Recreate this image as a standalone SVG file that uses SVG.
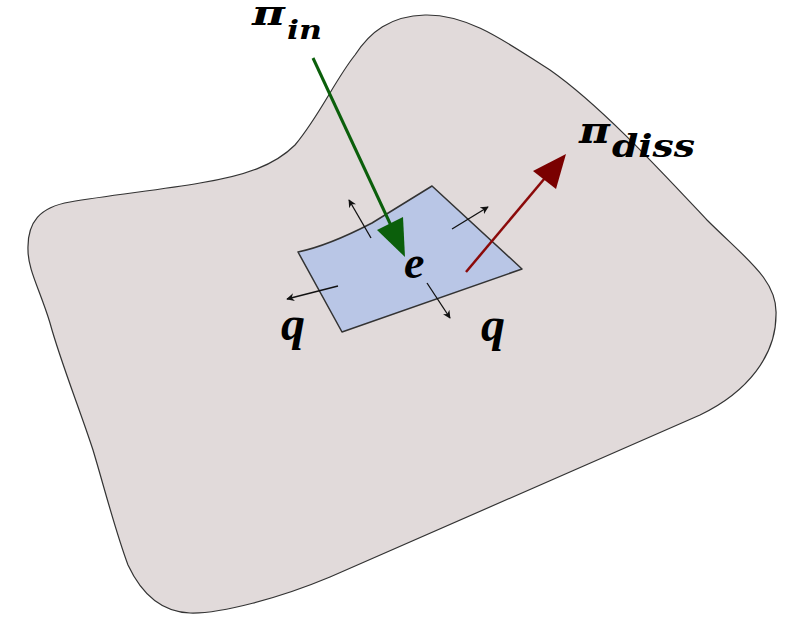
<svg xmlns="http://www.w3.org/2000/svg" width="790" height="617" viewBox="0 0 790 617">
<defs>
<style>
.lbl{font-family:"Liberation Serif","DejaVu Serif",serif;font-weight:bold;font-style:italic;fill:#000}
.dv{font-family:"DejaVu Serif","Liberation Serif",serif;font-weight:bold;font-style:italic;fill:#000}
.small{stroke:#111;stroke-width:1.3;fill:none}
</style>
<marker id="ah" viewBox="0 0 10 10" refX="9" refY="5" markerWidth="8" markerHeight="8" markerUnits="userSpaceOnUse" orient="auto"><path d="M0,0 L10,5 L0,10 L3,5 Z" fill="#111"/></marker>
</defs>
<rect width="790" height="617" fill="#fff"/>
<g id="body">
<path d="M28,250 C27,222 40,207 70,202 C110,195 160,190 200,183 C245,176 275,165 295,145 C320,115 335,80 355,55 C370,32 390,16 425,15 C470,14 510,45 550,70 C600,105 660,170 707,220 C745,258 778,280 776,315 C776,355 748,392 700,415 L330,577 C280,598 220,614 190,613 C163,612 142,595 128,565 C115,530 105,490 93,450 C80,410 60,360 50,323 C40,290 28,270 28,250 Z" fill="#e1dada" stroke="#333" stroke-width="1.2"/>
</g>
<g id="patch">
<path d="M298,252 C322,247 345,237 372,223 L432,186 L522,269 L342,332 Z" fill="#b9c6e6" stroke="#333" stroke-width="1.5" stroke-linejoin="round"/>
</g>
<g id="connectors">
<line class="small" x1="371" y1="238" x2="349" y2="200" marker-end="url(#ah)"/>
<line class="small" x1="452" y1="229" x2="488" y2="207" marker-end="url(#ah)"/>
<line class="small" x1="338" y1="286" x2="287" y2="299" marker-end="url(#ah)"/>
<line class="small" x1="427" y1="283" x2="450" y2="318" marker-end="url(#ah)"/>
<line x1="313" y1="58" x2="394" y2="232" stroke="#0b5f0b" stroke-width="3"/>
<path d="M405,257 L377,230 L403,217 Z" fill="#0b5f0b"/>
<line x1="466" y1="272" x2="550" y2="172" stroke="#8b0a0a" stroke-width="2.5"/>
<path d="M566,154 L533,171 L556,189 Z" fill="#7a0000"/>
</g>
<g id="labels">
<text class="dv" x="252" y="25" font-size="34" textLength="33" lengthAdjust="spacingAndGlyphs">π</text>
<text class="dv" x="287" y="39" font-size="26" textLength="35" lengthAdjust="spacingAndGlyphs">in</text>
<text class="dv" x="579" y="143" font-size="38" textLength="31" lengthAdjust="spacingAndGlyphs">π</text>
<text class="dv" x="612" y="157" font-size="31" textLength="83" lengthAdjust="spacingAndGlyphs">diss</text>
<text class="lbl" x="404" y="278" font-size="46">e</text>
<text class="lbl" x="281" y="340" font-size="48">q</text>
<text class="lbl" x="481" y="341" font-size="48">q</text>
</g>
</svg>
